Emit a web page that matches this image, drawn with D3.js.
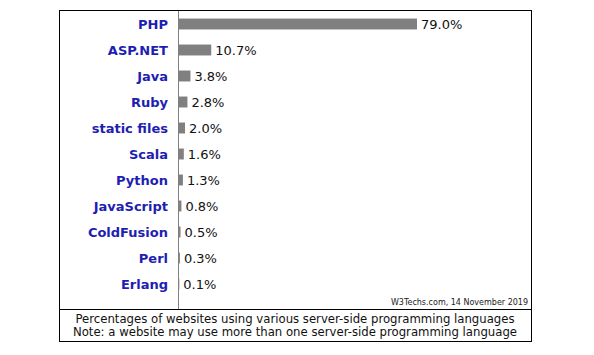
<!DOCTYPE html>
<html>
<head>
<meta charset="utf-8">
<script src="https://cdn.jsdelivr.net/npm/d3@7"></script>
<style>
  body { margin: 0; background: #fff; }
  .lang { font-family: "DejaVu Sans", Verdana, sans-serif; font-weight: bold; font-size: 13px; fill: #1e1eb2; }
  .val { font-family: "DejaVu Sans", Verdana, sans-serif; font-size: 13px; fill: #111; }
  .src { font-family: "DejaVu Sans", Verdana, sans-serif; font-size: 8px; fill: #222; }
  .cap { font-family: "DejaVu Sans", Verdana, sans-serif; font-size: 11.7px; fill: #111; }
</style>
</head>
<body>
<div id="chart"></div>
<script>
const languages = ['PHP', 'ASP.NET', 'Java', 'Ruby', 'static files', 'Scala', 'Python', 'JavaScript', 'ColdFusion', 'Perl', 'Erlang'];
const shares = [79.0, 10.7, 3.8, 2.8, 2.0, 1.6, 1.3, 0.8, 0.5, 0.3, 0.1];
const sourceNote = 'W3Techs.com, 14 November 2019';
const captionLines = [
    'Percentages of websites using various server-side programming languages',
    'Note: a website may use more than one server-side programming language'
];

const data = languages.map((name, i) => ({ name: name, value: shares[i] }));

const width = 594, height = 355;
const box = { left: 59, right: 531, top: 10, sep: 309, bottom: 341 };
const axisX = 178;

const svg = d3.select('#chart').append('svg')
    .attr('width', width)
    .attr('height', height);

// scales
const xScale = d3.scaleLinear()
    .domain([0, 79])
    .range([axisX, 416]);

const yScale = d3.scaleBand()
    .domain(languages)
    .range([11, 297])
    .paddingInner(0.58)
    .paddingOuter(0.29);

// bars (a 1px base so tiny shares stay visible)
svg.selectAll('.bar')
    .data(data)
  .join('rect')
    .attr('class', 'bar')
    .attr('x', xScale(0))
    .attr('y', d => yScale(d.name))
    .attr('width', d => xScale(d.value) - xScale(0) + 1)
    .attr('height', yScale.bandwidth())
    .attr('fill', '#808080');

// vertical axis line
svg.append('line')
    .attr('x1', axisX + 0.5).attr('x2', axisX + 0.5)
    .attr('y1', box.top).attr('y2', box.sep)
    .attr('stroke', '#808080')
    .attr('stroke-width', 1);

// category labels
svg.selectAll('.lang')
    .data(data)
  .join('text')
    .attr('class', 'lang')
    .attr('x', 168)
    .attr('y', d => yScale(d.name) + yScale.bandwidth() / 2)
    .attr('dy', '0.35em')
    .attr('text-anchor', 'end')
    .text(d => d.name);

// value labels
svg.selectAll('.val')
    .data(data)
  .join('text')
    .attr('class', 'val')
    .attr('x', d => xScale(d.value) + 5)
    .attr('y', d => yScale(d.name) + yScale.bandwidth() / 2)
    .attr('dy', '0.35em')
    .text(d => d.value.toFixed(1) + '%');

// frame
svg.append('rect')
    .attr('x', box.left + 0.5).attr('y', box.top + 0.5)
    .attr('width', box.right - box.left).attr('height', box.bottom - box.top)
    .attr('fill', 'none')
    .attr('stroke', '#000');

svg.append('line')
    .attr('x1', box.left).attr('x2', box.right + 1)
    .attr('y1', box.sep + 0.5).attr('y2', box.sep + 0.5)
    .attr('stroke', '#000');

svg.append('text')
    .attr('class', 'src')
    .attr('x', box.right - 3)
    .attr('y', 305)
    .attr('text-anchor', 'end')
    .text(sourceNote);

svg.selectAll('.cap')
    .data(captionLines)
  .join('text')
    .attr('class', 'cap')
    .attr('x', (box.left + box.right) / 2)
    .attr('y', (d, i) => 323 + i * 13)
    .attr('text-anchor', 'middle')
    .text(d => d);
</script>
</body>
</html>
